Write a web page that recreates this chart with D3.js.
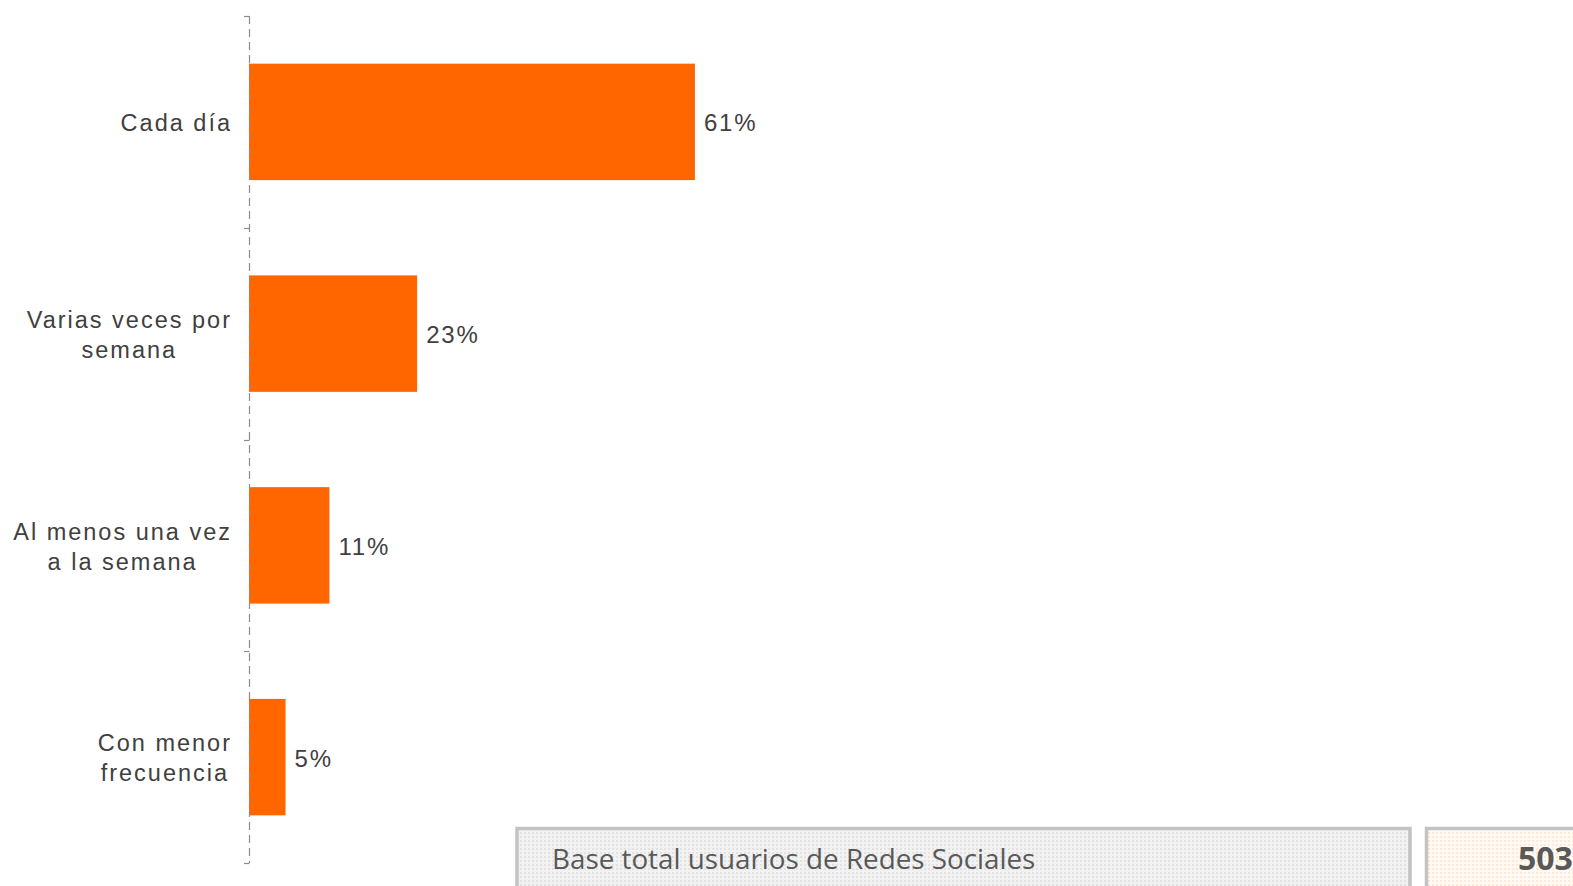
<!DOCTYPE html>
<html>
<head>
<meta charset="utf-8">
<script src="https://cdn.jsdelivr.net/npm/d3@7"></script>
<style>
  html, body { margin: 0; padding: 0; background: #ffffff; }
  svg { display: block; }
</style>
</head>
<body>
<svg id="chart" width="1573" height="886"></svg>
<script>
// Frequency of social network use
const categories = [
  ["Cada día"],
  ["Varias veces por", "semana"],
  ["Al menos una vez", "a la semana"],
  ["Con menor", "frecuencia"]
];
const values = [61, 23, 11, 5];
const baseLabel = "Base total usuarios de Redes Sociales";
const baseValue = "503";

const svg = d3.select("#chart");

const axisX = 249;
const x = d3.scaleLinear().domain([0, 100]).range([axisX, axisX + 731]);
const y = d3.scaleBand()
  .domain(d3.range(categories.length))
  .range([16, 863])
  .paddingInner(0.45)
  .paddingOuter(0.225);

// Patterns for the footer boxes
const defs = svg.append("defs");
const pg = defs.append("pattern").attr("id", "dotsGray")
  .attr("width", 4).attr("height", 4).attr("patternUnits", "userSpaceOnUse");
pg.append("rect").attr("width", 4).attr("height", 4).attr("fill", "#f2f2f2");
pg.append("rect").attr("width", 2).attr("height", 2).attr("fill", "#e2e2e2");
const po = defs.append("pattern").attr("id", "dotsOrange")
  .attr("width", 4).attr("height", 4).attr("patternUnits", "userSpaceOnUse");
po.append("rect").attr("width", 4).attr("height", 4).attr("fill", "#fffaf5");
po.append("rect").attr("width", 2).attr("height", 2).attr("fill", "#fde9d6");

// Bars
svg.append("g").selectAll("rect")
  .data(values)
  .join("rect")
  .attr("x", x(0))
  .attr("y", (d, i) => y(i))
  .attr("width", d => x(d) - x(0))
  .attr("height", y.bandwidth())
  .attr("fill", "#ff6600");

// Dashed category axis with tick marks at band boundaries
const step = y.step();
const bounds = d3.range(categories.length + 1).map(i => 16 + i * step);
const axisG = svg.append("g");
axisG.append("line")
  .attr("x1", axisX + 0.5).attr("x2", axisX + 0.5)
  .attr("y1", 16).attr("y2", 863)
  .attr("stroke", "#8c8c8c").attr("stroke-width", 1.2)
  .attr("stroke-dasharray", "8,5");
axisG.selectAll("line.tick")
  .data(bounds)
  .join("line")
  .attr("class", "tick")
  .attr("x1", axisX - 5).attr("x2", axisX + 0.5)
  .attr("y1", d => Math.round(d) + 0.5).attr("y2", d => Math.round(d) + 0.5)
  .attr("stroke", "#8c8c8c").attr("stroke-width", 1.2);

// Category labels: centred block, right edge at 232
const labelRight = 232;
const lineH = 30;
categories.forEach((lines, i) => {
  const cy = y(i) + y.bandwidth() / 2 + 1;
  const g = svg.append("g");
  const texts = lines.map((ln, j) => g.append("text")
    .attr("y", cy + (j - (lines.length - 1) / 2) * lineH)
    .attr("dy", "0.35em")
    .attr("font-family", "Liberation Sans, Arial, sans-serif")
    .attr("font-size", 23.5)
    .attr("letter-spacing", 2)
    .attr("fill", "#404040")
    .attr("text-anchor", "middle")
    .text(ln));
  const maxW = d3.max(texts, t => t.node().getComputedTextLength());
  texts.forEach(t => t.attr("x", labelRight - maxW / 2));
});

// Value labels
svg.append("g").selectAll("text")
  .data(values)
  .join("text")
  .attr("x", d => x(d) + 9)
  .attr("y", (d, i) => y(i) + y.bandwidth() / 2 + 1)
  .attr("dy", "0.35em")
  .attr("font-family", "Liberation Sans, Arial, sans-serif")
  .attr("font-size", 24)
  .attr("letter-spacing", 1.8)
  .attr("fill", "#404040")
  .text(d => d + "%");

// Footer boxes
svg.append("rect")
  .attr("x", 517).attr("y", 828.5).attr("width", 893).attr("height", 70)
  .attr("fill", "url(#dotsGray)").attr("stroke", "#c3c3c3").attr("stroke-width", 3.5);
svg.append("text")
  .attr("x", 552).attr("y", 869)
  .attr("font-family", "Open Sans, Lato, sans-serif")
  .attr("font-size", 27.8)
  .attr("fill", "#595959")
  .text(baseLabel);

svg.append("rect")
  .attr("x", 1426.5).attr("y", 828.5).attr("width", 200).attr("height", 70)
  .attr("fill", "url(#dotsOrange)").attr("stroke", "#c3c3c3").attr("stroke-width", 3.5);
svg.append("text")
  .attr("x", 1518).attr("y", 870)
  .attr("font-family", "Open Sans, Lato, sans-serif")
  .attr("font-weight", "bold")
  .attr("font-size", 32)
  .attr("fill", "#595959")
  .text(baseValue);
</script>
</body>
</html>
